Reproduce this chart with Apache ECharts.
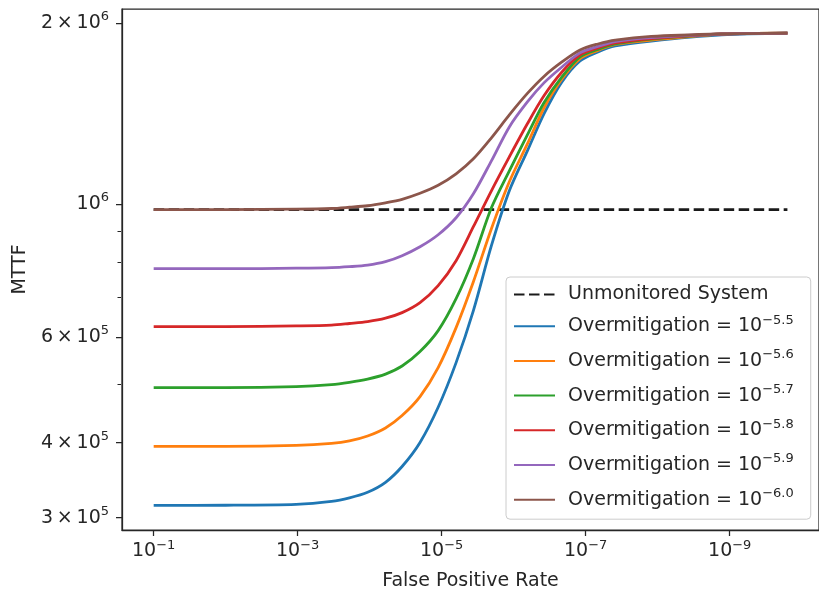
<!DOCTYPE html>
<html><head><meta charset="utf-8">
<script src="https://cdn.jsdelivr.net/npm/echarts@6/dist/echarts.min.js"></script>
<style>html,body{margin:0;padding:0;background:#fff}#c{width:819px;height:597px}</style>
</head><body><div id="c"></div>
<script>
// ---- data ----
const falsePositiveRate = [1e-1, 1e-2, 1.05e-3, 3.39e-4, 1.91e-4, 1.07e-4, 6.03e-5, 3.55e-5, 2.0e-5, 1.12e-5, 6.31e-6, 3.63e-6, 2.04e-6, 1.15e-6, 6.46e-7, 3.80e-7, 2.14e-7, 1.20e-7, 6.76e-8, 3.89e-8, 1.23e-8, 1.29e-9, 1.58e-10];
const mttfOm55 = [314500, 314600, 315600, 319200, 323600, 330600, 343500, 365000, 400300, 458100, 543700, 663700, 851400, 1051000, 1225000, 1412000, 1596000, 1730000, 1790500, 1832000, 1867000, 1911000, 1925000];
const mttfOm56 = [394200, 394200, 395700, 398800, 402600, 410300, 423200, 443800, 477300, 533400, 621800, 741500, 908700, 1088000, 1258000, 1444000, 1614000, 1745000, 1801000, 1843000, 1874000, 1918000, 1925000];
const mttfOm57 = [494100, 494100, 496000, 499800, 504200, 510500, 520300, 536600, 567300, 614700, 694800, 810000, 984700, 1135000, 1302000, 1473000, 1627000, 1757000, 1807800, 1846000, 1881000, 1918000, 1925000];
const mttfOm58 = [624300, 624300, 626000, 627800, 631700, 636300, 644700, 658600, 684400, 730500, 803800, 915700, 1051000, 1197000, 1359000, 1513000, 1658000, 1770000, 1818000, 1853000, 1885000, 1918000, 1925000];
const mttfOm59 = [779500, 779500, 781000, 782600, 785600, 790300, 800800, 819300, 847900, 888000, 947800, 1039000, 1179000, 1343000, 1478000, 1590000, 1690000, 1784000, 1828700, 1863000, 1892000, 1918000, 1925000];
const mttfOm60 = [978000, 978000, 979500, 982000, 986700, 992400, 1003800, 1017400, 1041000, 1073400, 1121600, 1188200, 1287700, 1406300, 1527000, 1630000, 1722900, 1804000, 1846000, 1874000, 1900000, 1918000, 1925000];
const unmonitoredFPR = [1e-1, 1.58e-10];
const unmonitoredMTTF = [978000, 978000];
const overmitigationExps = ['5.5', '5.6', '5.7', '5.8', '5.9', '6.0'];
const xTickExponents = [-1, -3, -5, -7, -9];
const xTickLabels = [['10', '\u22121'], ['10', '\u22123'], ['10', '\u22125'], ['10', '\u22127'], ['10', '\u22129']];
const yTickValues = [3e5, 4e5, 6e5, 1e6, 2e6];
const yTickLabels = [['3\u2009\u00d7\u200910', '5'], ['4\u2009\u00d7\u200910', '5'], ['6\u2009\u00d7\u200910', '5'], ['10', '6'], ['2\u2009\u00d7\u200910', '6']];
const yMinorTicks = [5e5, 7e5, 8e5, 9e5];

// ---- chart ----
const FONT = 'DejaVu Sans';
const INK = '#262626';
const colors = ['#1f77b4', '#ff7f0e', '#2ca02c', '#d62728', '#9467bd', '#8c564b'];
const omSeries = [mttfOm55, mttfOm56, mttfOm57, mttfOm58, mttfOm59, mttfOm60];
const lg = Math.log10;
const pairs = (xs, ys) => xs.map((x, i) => [lg(x), lg(ys[i])]);
const rich = {
  b: {fontSize: 19, fontFamily: FONT, color: INK, lineHeight: 25, verticalAlign: 'middle'},
  s: {fontSize: 13, fontFamily: FONT, color: INK, lineHeight: 14, verticalAlign: 'top'}
};
const yLog = yTickValues.map(lg);
const yMin = 5.4565, yMax = 6.3245;

const series = [{
  name: 'Unmonitored System', type: 'line', data: pairs(unmonitoredFPR, unmonitoredMTTF),
  symbol: 'none', showSymbol: false, color: '#1a1a1a',
  lineStyle: {width: 2.8, type: [10.5, 4.5], color: '#1a1a1a', cap: 'butt'}, z: 2
}];
overmitigationExps.forEach((e, k) => {
  series.push({
    name: 'Overmitigation = 10^-' + e, type: 'line', data: pairs(falsePositiveRate, omSeries[k]),
    symbol: 'none', showSymbol: false, color: colors[k], smooth: 0.3,
    lineStyle: {width: 2.8, color: colors[k], join: 'round'}, z: 3 + k
  });
});

const chart = echarts.init(document.getElementById('c'), null, {renderer: 'canvas'});
chart.setOption({
  animation: false,
  backgroundColor: '#ffffff',
  textStyle: {fontFamily: FONT},
  grid: {left: 122, top: 9, width: 698, height: 521, show: true, borderColor: INK, borderWidth: 1.25, backgroundColor: 'transparent'},
  xAxis: [{
    type: 'value', min: -10.24, max: -0.56, inverse: true,
    axisLine: {show: true, lineStyle: {color: INK, width: 1.25}},
    axisTick: {show: true, customValues: xTickExponents, length: 6, lineStyle: {color: INK, width: 1.25}},
    axisLabel: {
      customValues: xTickExponents, margin: 9, rich: rich,
      formatter: v => { const i = xTickExponents.findIndex(t => Math.abs(t - v) < 1e-6); return i < 0 ? '' : '{b|' + xTickLabels[i][0] + '}{s|' + xTickLabels[i][1] + '}'; }
    },
    splitLine: {show: false},
    name: 'False Positive Rate', nameLocation: 'middle', nameGap: 42,
    nameTextStyle: {fontSize: 19, color: INK, fontFamily: FONT}
  }],
  yAxis: [{
    type: 'value', min: yMin, max: yMax,
    axisLine: {show: true, lineStyle: {color: INK, width: 1.25}},
    axisTick: {show: true, customValues: yLog, length: 6, lineStyle: {color: INK, width: 1.25}},
    axisLabel: {
      customValues: yLog, margin: 13, rich: rich,
      formatter: v => { const i = yLog.findIndex(t => Math.abs(t - v) < 1e-6); return i < 0 ? '' : '{b|' + yTickLabels[i][0] + '}{s|' + yTickLabels[i][1] + '}'; }
    },
    splitLine: {show: false},
    name: 'MTTF', nameLocation: 'middle', nameGap: 86,
    nameTextStyle: {fontSize: 19, color: INK, fontFamily: FONT}
  }, {
    type: 'value', min: yMin, max: yMax, position: 'right', offset: -698,
    axisLine: {show: false},
    axisTick: {show: true, inside: true, customValues: yMinorTicks.map(lg), length: 3.5, lineStyle: {color: INK, width: 1}},
    axisLabel: {show: false},
    splitLine: {show: false}
  }],
  legend: {
    orient: 'vertical', left: 506, top: 277, padding: [8, 17, 7, 7],
    itemWidth: 41, itemHeight: 10, itemGap: 9.7,
    backgroundColor: 'rgba(255,255,255,0.8)', borderColor: '#cccccc', borderWidth: 1, borderRadius: 4,
    itemStyle: {opacity: 0},
    data: series.map(s => s.name),
    textStyle: {fontSize: 19, color: INK, fontFamily: FONT, lineHeight: 17.6, padding: [0, 0, 0, 8], rich: {
      t: {fontSize: 19, fontFamily: FONT, color: INK, lineHeight: 25, verticalAlign: 'middle'},
      s: {fontSize: 13, fontFamily: FONT, color: INK, lineHeight: 14, verticalAlign: 'top'}
    }},
    formatter: name => {
      const m = name.match(/^Overmitigation = 10\^-(.*)$/);
      return m ? '{t|Overmitigation = 10}{s|\u2212' + m[1] + '}' : name;
    }
  },
  series: series
});
</script>
</body></html>
